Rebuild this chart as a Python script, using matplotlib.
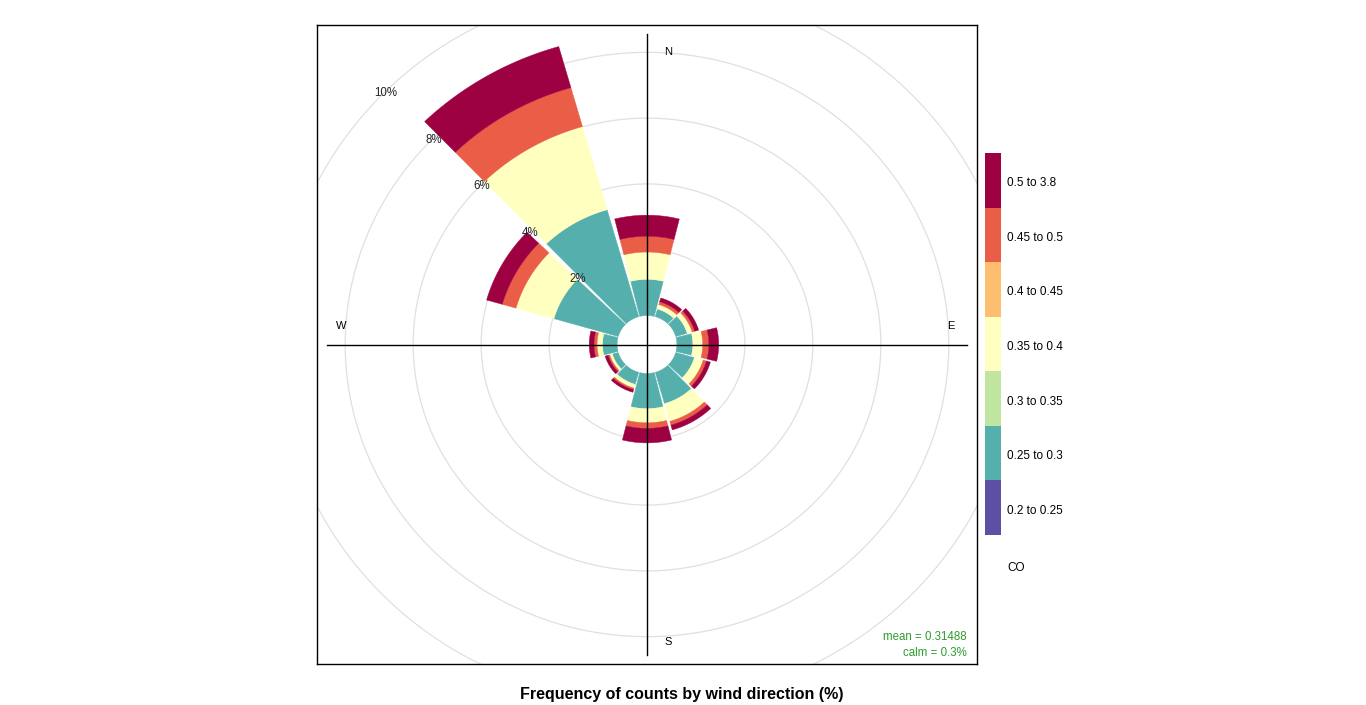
import numpy as np
import matplotlib
matplotlib.use("Agg")
import matplotlib.pyplot as plt
from matplotlib.patches import Rectangle

plt.rcParams["font.family"] = ["Liberation Sans", "DejaVu Sans"]

W, H = 1366, 705

# wind direction sectors (degrees) and CO concentration bins
directions = [0, 30, 60, 90, 120, 150, 180, 210, 240, 270, 300, 330]
bin_labels = ["0.2 to 0.25", "0.25 to 0.3", "0.3 to 0.35", "0.35 to 0.4",
              "0.4 to 0.45", "0.45 to 0.5", "0.5 to 3.8"]
colours = ["#5E4FA2", "#55AFAD", "#BFE5A0", "#FFFFBF", "#FDBF6F", "#EA5D47", "#9E0142"]

# frequency (%) per direction for each bin
co_020_025 = [0, 0, 0, 0, 0, 0, 0, 0, 0, 0, 0, 0]
co_025_030 = [1.10, 0.24, 0.35, 0.47, 0.57, 0.99, 1.07, 0.38, 0.18, 0.43, 1.97, 3.38]
co_030_035 = [0, 0, 0, 0, 0, 0, 0, 0, 0, 0, 0, 0]
co_035_040 = [0.83, 0.14, 0.15, 0.29, 0.27, 0.56, 0.43, 0.12, 0.08, 0.16, 1.16, 2.63]
co_040_045 = [0, 0, 0, 0, 0, 0, 0, 0, 0, 0, 0, 0]
co_045_050 = [0.48, 0.09, 0.08, 0.18, 0.10, 0.12, 0.17, 0.05, 0.05, 0.09, 0.42, 1.23]
co_050_380 = [0.64, 0.12, 0.12, 0.29, 0.12, 0.15, 0.44, 0.08, 0.09, 0.14, 0.48, 1.30]

grid_levels = [2, 4, 6, 8, 10]
mean_text = "mean = 0.31488"
calm_text = "calm = 0.3%"
pollutant = "CO"
title = "Frequency of counts by wind direction (%)"

offset = 0.88   # inner hole
lim = 9.71
line_len = 9.43
half_width = 14  # degrees


def sector(ax, wd, r1, r2, colour):
    th = np.radians(np.linspace(wd - half_width, wd + half_width, 80))
    x = np.concatenate([r1 * np.sin(th), r2 * np.sin(th[::-1])])
    y = np.concatenate([r1 * np.cos(th), r2 * np.cos(th[::-1])])
    ax.fill(x, y, color=colour, lw=0.3, ec=colour, zorder=3)


def main():
    fig = plt.figure(figsize=(W / 100, H / 100), dpi=100)
    ax = fig.add_axes([317 / W, (H - 664) / H, 660 / W, 639 / H])
    ax.set_xlim(-lim, lim)
    ax.set_ylim(-lim, lim)
    ax.set_xticks([])
    ax.set_yticks([])
    for s in ax.spines.values():
        s.set_linewidth(1.0)
        s.set_color("black")

    # grid circles
    t = np.linspace(0, 2 * np.pi, 400)
    for g in grid_levels:
        r = offset + g
        ax.plot(r * np.sin(t), r * np.cos(t), color="#E0E0E0", lw=0.9, zorder=1)
        a = np.radians(315)
        ax.text(r * np.sin(a), r * np.cos(a) - 0.05, f"{g}%", fontsize=8.3,
                ha="center", va="center", color="#222222", zorder=5)

    # axis lines
    ax.plot([-line_len, line_len], [0, 0], color="black", lw=1, zorder=4)
    ax.plot([0, 0], [-line_len, line_len], color="black", lw=1, zorder=4)
    ax.text(0.61, 8.88, "N", fontsize=8, ha="center", va="center")
    ax.text(8.93, 0.56, "E", fontsize=8, ha="center", va="center")
    ax.text(0.61, -9.04, "S", fontsize=8, ha="center", va="center")
    ax.text(-8.99, 0.56, "W", fontsize=8, ha="center", va="center")

    # stacked sectors
    series = [co_020_025, co_025_030, co_030_035, co_035_040,
              co_040_045, co_045_050, co_050_380]
    for i, wd in enumerate(directions):
        r = offset
        for vals, col in zip(series, colours):
            v = vals[i]
            if v > 0:
                sector(ax, wd, r, r + v, col)
                r += v

    ax.text(0.985, 0.042, mean_text, transform=ax.transAxes, ha="right",
            va="center", fontsize=8.3, color="#2E9B2E")
    ax.text(0.985, 0.017, calm_text, transform=ax.transAxes, ha="right",
            va="center", fontsize=8.3, color="#2E9B2E")

    # colour key
    key = fig.add_axes([985 / W, (H - 535) / H, 16 / W, 382 / H])
    key.set_xlim(0, 1)
    key.set_ylim(0, len(colours))
    key.axis("off")
    for j, col in enumerate(colours):
        key.add_patch(Rectangle((0, j), 1, 1, color=col, lw=0))
        yc = 535 - (j + 0.5) * 382 / len(colours) + 3
        fig.text(1007 / W, 1 - yc / H, bin_labels[j], fontsize=8.5,
                 ha="left", va="center")
    fig.text(1007 / W, 1 - 568 / H, pollutant, fontsize=8.5, ha="left", va="center")

    fig.text(682 / W, 1 - 694 / H, title, fontsize=11.5, fontweight="bold",
             ha="center", va="center")

    fig.savefig("out.png", dpi=100)


if __name__ == "__main__":
    main()
